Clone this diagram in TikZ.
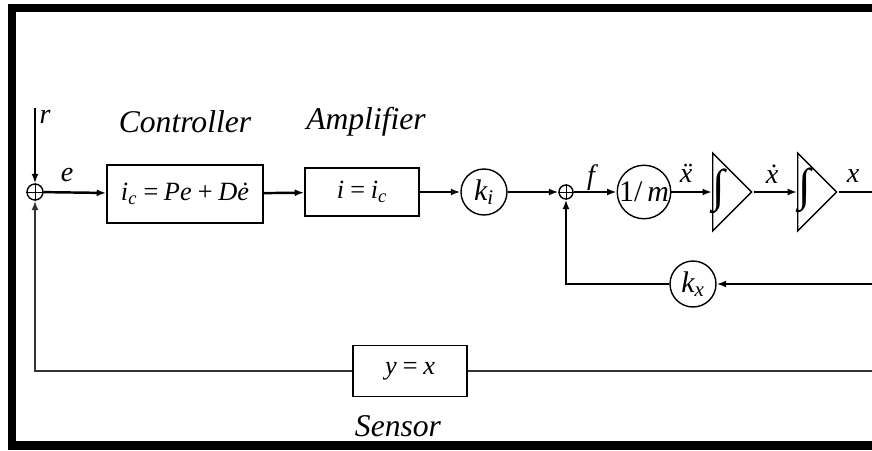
\documentclass[tikz,border=0pt]{standalone}
\usepackage{fontspec}
\setmainfont{Liberation Serif}
\usetikzlibrary{arrows.meta,shapes.geometric}

\begin{document}
\begin{tikzpicture}[
        x=0.02cm, y=-0.02cm,
        >={Latex[length=1.9mm,width=1.4mm]},
        line width=1.4pt,
        every node/.style={
            font=\fontsize{15}{17}\selectfont\itshape
        },
        block/.style={draw, rectangle, line width=0.9pt, inner sep=0pt},
        gain/.style={draw, circle, line width=0.8pt, minimum size=0.92cm, inner sep=0pt,
            font=\fontsize{17}{19}\selectfont\itshape},
        junction/.style={draw, circle, line width=0.8pt, minimum size=0.32cm, inner sep=0pt},
        integ/.style={draw, isosceles triangle, isosceles triangle stretches,
            line width=0.8pt, minimum width=1.56cm, minimum height=0.78cm,
            inner sep=0pt, anchor=lower side},
        title/.style={font=\fontsize{18}{20}\selectfont\itshape},
        sig/.style={font=\fontsize{16}{18}\selectfont\itshape},
        intsign/.style={font=\fontsize{26}{28}\selectfont\itshape}
    ]

    \useasboundingbox (0,0) rectangle (872,450);
    \clip (0,0) rectangle (872,450);

    % Marco
    \draw[line width=4.6pt] (890,8) -- (12,8) -- (12,445.5) -- (890,445.5);

    % Bloques
    \node[junction] (s1)   at (35,192)  {};
    \node[block, minimum width=3.12cm, minimum height=1.16cm] (ctrl) at (185,194)
        {{\itshape i}\textsubscript{c}\,=\,{\itshape Pe}\,+\,{\itshape D\.{e}}};
    \node[block, minimum width=2.28cm, minimum height=0.96cm] (amp) at (362,192)
        {{\itshape i}\,=\,{\itshape i}\textsubscript{c}};
    \node[gain]     (ki)   at (484,192) {k\textsubscript{i}};
    \node[junction, minimum size=0.28cm] (s2) at (566,192) {};
    \node[gain, minimum size=0.96cm] (invm) at (644,192) {\upshape 1/\,\itshape m};
    \node[integ]    (int1) at (712,192) {};
    \node[integ]    (int2) at (797,192) {};
    \node[gain]     (kx)   at (693,284) {k\textsubscript{x}};
    \node[block, minimum width=2.28cm, minimum height=1.02cm] (sens) at (410,371)
        {y\,=\,x};

    \node[intsign]  (i1)   at (719,191) {∫};
    \node[intsign]  (i2)   at (805,190) {∫};

    % Sumadores
    \draw[line width=0.5pt] (s1.north) -- (s1.south) (s1.west) -- (s1.east);
    \draw[line width=0.5pt] (s2.north) -- (s2.south) (s2.west) -- (s2.east);

    % Textos
    \node[title] (tc) at (185,122) {Controller};
    \node[title] (ta) at (366,122) {Amplifier};
    \node[title] (ts) at (398,426) {Sensor};
    \node[sig]   (lr) at (45,117)  {r};
    \node[sig]   (le) at (67,175)  {e};
    \node[sig]   (lf) at (591,178) {f};
    \node[sig]   (la) at (686,173) {\"{x}};
    \node[sig]   (lv) at (772,174) {\.{x}};
    \node[sig]   (lx) at (853,176) {x};

    \coordinate (rin)  at (35,108);
    \coordinate (xout) at (880,192);
    \coordinate (kxin) at (880,284);
    \coordinate (ysin) at (880,371);

    % Conexiones
    \draw[->] (rin) -- (s1);
    \draw[->] (s1) -- (ctrl);
    \draw[->] (ctrl) -- (amp);
    \draw[->] (amp) -- (ki);
    \draw[->] (ki) -- (s2);
    \draw[->] (s2) -- (invm);
    \draw[->] (invm) -- (int1);
    \draw[->] (int1.apex) -- (int2);
    \draw (int2.apex) -- (xout);
    \draw[->] (kxin) -- (kx);
    \draw[->] (kx.west) -| (s2.south);
    \draw[line width=0.9pt, black!80] (ysin) -- (sens.east);
    \draw[->, line width=0.9pt, black!80] (sens.west) -| (s1.south);

    \end{tikzpicture}
\end{document}
